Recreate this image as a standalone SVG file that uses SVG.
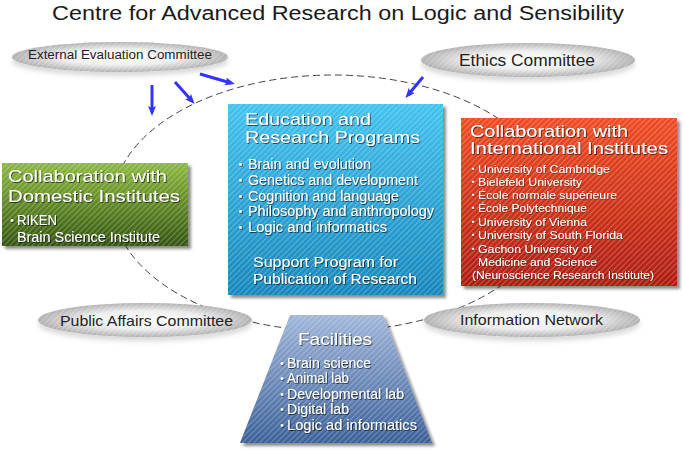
<svg xmlns="http://www.w3.org/2000/svg" width="684" height="451" viewBox="0 0 684 451">
<defs>
  <style>
    text { font-family: "Liberation Sans", "Noto Sans CJK JP", sans-serif; }
    .title { font-size: 20px; fill: #1a1a1a; }
    .cm { fill: #222; }
    .head { fill: #ffffff; font-size: 17px; filter: url(#ts); }
    .item { fill: #ffffff; font-size: 14px; filter: url(#ts); }
    .small { fill: #ffffff; font-size: 11.5px; filter: url(#ts2); }
    .ring { fill: none; stroke: #444; stroke-width: 1; stroke-dasharray: 7 4; }
    .arrow { fill: none; stroke: #3333ff; stroke-width: 3; marker-end: url(#ah); }
  </style>
  <pattern id="stripes" width="4" height="4" patternUnits="userSpaceOnUse" patternTransform="rotate(45)">
    <rect x="0" y="0" width="1.1" height="4" fill="#ffffff" fill-opacity="0.26"/>
  </pattern>
  <pattern id="gstripes" width="4" height="4" patternUnits="userSpaceOnUse" patternTransform="rotate(45)">
    <rect x="0" y="0" width="1.2" height="4" fill="#ffffff" fill-opacity="0.25"/>
  </pattern>
  <linearGradient id="gBlue" x1="0" y1="0" x2="0" y2="1">
    <stop offset="0" stop-color="#42c2f0"/>
    <stop offset="1" stop-color="#1786bb"/>
  </linearGradient>
  <linearGradient id="gGreen" x1="0" y1="0" x2="0" y2="1">
    <stop offset="0" stop-color="#8cba3c"/>
    <stop offset="1" stop-color="#335510"/>
  </linearGradient>
  <linearGradient id="gRed" x1="0" y1="0" x2="0" y2="1">
    <stop offset="0" stop-color="#f04c24"/>
    <stop offset="1" stop-color="#ae1c10"/>
  </linearGradient>
  <linearGradient id="gFac" x1="0" y1="0" x2="0" y2="1">
    <stop offset="0" stop-color="#a0b6da"/>
    <stop offset="1" stop-color="#3b6098"/>
  </linearGradient>
  <radialGradient id="gGray" cx="0.5" cy="0.5" r="0.5">
    <stop offset="0" stop-color="#ffffff"/>
    <stop offset="0.55" stop-color="#ededed"/>
    <stop offset="1" stop-color="#b0b0b0"/>
  </radialGradient>
  <filter id="sh" x="-10%" y="-10%" width="125%" height="125%">
    <feGaussianBlur in="SourceAlpha" stdDeviation="1.8"/>
    <feOffset dx="3" dy="3" result="b"/>
    <feFlood flood-color="#000" flood-opacity="0.45"/>
    <feComposite in2="b" operator="in" result="s"/>
    <feMerge><feMergeNode in="s"/><feMergeNode in="SourceGraphic"/></feMerge>
  </filter>
  <filter id="esh" x="-10%" y="-30%" width="120%" height="180%">
    <feGaussianBlur in="SourceAlpha" stdDeviation="2.5"/>
    <feOffset dx="0" dy="4" result="b"/>
    <feFlood flood-color="#000" flood-opacity="0.15"/>
    <feComposite in2="b" operator="in" result="s"/>
    <feMerge><feMergeNode in="s"/><feMergeNode in="SourceGraphic"/></feMerge>
  </filter>
  <filter id="ts" x="-5%" y="-20%" width="110%" height="150%">
    <feDropShadow dx="0.8" dy="0.8" stdDeviation="0.5" flood-color="#000" flood-opacity="0.75"/>
  </filter>
  <filter id="ts2" x="-5%" y="-20%" width="110%" height="150%">
    <feDropShadow dx="0.5" dy="0.5" stdDeviation="0.3" flood-color="#000" flood-opacity="0.6"/>
  </filter>
  <marker id="ah" viewBox="0 0 10 8" refX="6" refY="4" markerWidth="10" markerHeight="8" markerUnits="userSpaceOnUse" orient="auto">
    <path d="M0,0 L10,4 L0,8 L2,4 Z" fill="#3333ff"/>
  </marker>
</defs>

<rect x="0" y="0" width="684" height="451" fill="#ffffff"/>

<text class="title" x="52" y="20" textLength="572" lengthAdjust="spacingAndGlyphs">Centre for Advanced Research on Logic and Sensibility</text>

<g id="connectors">
  <ellipse class="ring" cx="333" cy="203" rx="220" ry="128"/>
  <line class="arrow" x1="152" y1="85" x2="152" y2="112"/>
  <line class="arrow" x1="175" y1="82" x2="192" y2="101"/>
  <line class="arrow" x1="200" y1="74" x2="231" y2="83"/>
  <line class="arrow" x1="423" y1="77" x2="408" y2="95"/>
</g>

<g id="external-evaluation">
  <ellipse cx="120" cy="57" rx="108" ry="15" fill="url(#gGray)" filter="url(#esh)"/>
  <ellipse cx="120" cy="57" rx="108" ry="15" fill="url(#gstripes)"/>
  <text class="cm" x="28" y="59" font-size="12" textLength="184" lengthAdjust="spacingAndGlyphs">External Evaluation Committee</text>
</g>

<g id="ethics">
  <ellipse cx="528" cy="60" rx="107" ry="17" fill="url(#gGray)" filter="url(#esh)"/>
  <ellipse cx="528" cy="60" rx="107" ry="17" fill="url(#gstripes)"/>
  <text class="cm" x="459" y="66" font-size="16" textLength="136" lengthAdjust="spacingAndGlyphs">Ethics Committee</text>
</g>

<g id="public-affairs">
  <ellipse cx="145" cy="320" rx="107" ry="17" fill="url(#gGray)" filter="url(#esh)"/>
  <ellipse cx="145" cy="320" rx="107" ry="17" fill="url(#gstripes)"/>
  <text class="cm" x="60" y="326" font-size="15" textLength="173" lengthAdjust="spacingAndGlyphs">Public Affairs Committee</text>
</g>

<g id="information-network">
  <ellipse cx="532" cy="320" rx="108" ry="17" fill="url(#gGray)" filter="url(#esh)"/>
  <ellipse cx="532" cy="320" rx="108" ry="17" fill="url(#gstripes)"/>
  <text class="cm" x="460" y="325" font-size="15" textLength="143" lengthAdjust="spacingAndGlyphs">Information Network</text>
</g>

<g id="education">
  <rect x="228" y="104" width="215" height="191" fill="url(#gBlue)" filter="url(#sh)"/>
  <rect x="228" y="104" width="215" height="191" fill="url(#stripes)"/>
  <text class="head" x="245" y="125" textLength="126" lengthAdjust="spacingAndGlyphs">Education and</text>
  <text class="head" x="245" y="143" textLength="175" lengthAdjust="spacingAndGlyphs">Research Programs</text>
  <text class="item" y="169"><tspan x="234" font-size="13">・</tspan><tspan x="248" textLength="123" lengthAdjust="spacingAndGlyphs">Brain and evolution</tspan></text>
  <text class="item" y="185"><tspan x="234" font-size="13">・</tspan><tspan x="248" textLength="170" lengthAdjust="spacingAndGlyphs">Genetics and development</tspan></text>
  <text class="item" y="201"><tspan x="234" font-size="13">・</tspan><tspan x="248" textLength="151" lengthAdjust="spacingAndGlyphs">Cognition and language</tspan></text>
  <text class="item" y="216"><tspan x="234" font-size="13">・</tspan><tspan x="248" textLength="186" lengthAdjust="spacingAndGlyphs">Philosophy and anthropology</tspan></text>
  <text class="item" y="232"><tspan x="234" font-size="13">・</tspan><tspan x="248" textLength="139" lengthAdjust="spacingAndGlyphs">Logic and informatics</tspan></text>
  <text class="item" x="253" y="267" textLength="145" lengthAdjust="spacingAndGlyphs">Support Program for</text>
  <text class="item" x="253" y="284" textLength="164" lengthAdjust="spacingAndGlyphs">Publication of Research</text>
</g>

<g id="domestic">
  <rect x="2" y="163" width="186" height="83" fill="url(#gGreen)" filter="url(#sh)"/>
  <rect x="2" y="163" width="186" height="83" fill="url(#stripes)"/>
  <text class="head" x="8" y="182" textLength="159" lengthAdjust="spacingAndGlyphs">Collaboration with</text>
  <text class="head" x="8" y="202" textLength="172" lengthAdjust="spacingAndGlyphs">Domestic Institutes</text>
  <text class="item" y="225"><tspan x="5.5" font-size="13">・</tspan><tspan x="17" textLength="40" lengthAdjust="spacingAndGlyphs">RIKEN</tspan></text>
  <text class="item" x="17" y="242" textLength="143" lengthAdjust="spacingAndGlyphs">Brain Science Institute</text>
</g>

<g id="international">
  <rect x="461" y="118" width="216" height="168" fill="url(#gRed)" filter="url(#sh)"/>
  <rect x="461" y="118" width="216" height="168" fill="url(#stripes)"/>
  <text class="head" x="470" y="137" font-size="15.5" textLength="158" lengthAdjust="spacingAndGlyphs">Collaboration with</text>
  <text class="head" x="470" y="154" font-size="15.5" textLength="198" lengthAdjust="spacingAndGlyphs">International Institutes</text>
  <text class="small" y="173"><tspan x="467.5" font-size="11">・</tspan><tspan x="478" textLength="132" lengthAdjust="spacingAndGlyphs">University of Cambridge</tspan></text>
  <text class="small" y="186"><tspan x="467.5" font-size="11">・</tspan><tspan x="478" textLength="104" lengthAdjust="spacingAndGlyphs">Bielefeld University</tspan></text>
  <text class="small" y="199"><tspan x="467.5" font-size="11">・</tspan><tspan x="478" textLength="139" lengthAdjust="spacingAndGlyphs">École normale supérieure</tspan></text>
  <text class="small" y="212"><tspan x="467.5" font-size="11">・</tspan><tspan x="478" textLength="109" lengthAdjust="spacingAndGlyphs">École Polytechnique</tspan></text>
  <text class="small" y="226"><tspan x="467.5" font-size="11">・</tspan><tspan x="478" textLength="109" lengthAdjust="spacingAndGlyphs">University of Vienna</tspan></text>
  <text class="small" y="239"><tspan x="467.5" font-size="11">・</tspan><tspan x="478" textLength="145" lengthAdjust="spacingAndGlyphs">University of South Florida</tspan></text>
  <text class="small" y="253"><tspan x="467.5" font-size="11">・</tspan><tspan x="478" textLength="114" lengthAdjust="spacingAndGlyphs">Gachon University of</tspan></text>
  <text class="small" x="478" y="266" textLength="119" lengthAdjust="spacingAndGlyphs">Medicine and Science</text>
  <text class="small" x="472" y="279" textLength="182" lengthAdjust="spacingAndGlyphs">(Neuroscience Research Institute)</text>
</g>

<g id="facilities">
  <polygon points="290,315 383,315 432,443 240,443" fill="url(#gFac)" filter="url(#sh)"/>
  <polygon points="290,315 383,315 432,443 240,443" fill="url(#stripes)"/>
  <text class="head" x="298" y="345" font-size="18" textLength="74" lengthAdjust="spacingAndGlyphs">Facilities</text>
  <text class="item" y="368"><tspan x="275.5" font-size="13">・</tspan><tspan x="287" textLength="84" lengthAdjust="spacingAndGlyphs">Brain science</tspan></text>
  <text class="item" y="383"><tspan x="275.5" font-size="13">・</tspan><tspan x="287" textLength="62" lengthAdjust="spacingAndGlyphs">Animal lab</tspan></text>
  <text class="item" y="399"><tspan x="275.5" font-size="13">・</tspan><tspan x="287" textLength="117" lengthAdjust="spacingAndGlyphs">Developmental lab</tspan></text>
  <text class="item" y="414"><tspan x="275.5" font-size="13">・</tspan><tspan x="287" textLength="62" lengthAdjust="spacingAndGlyphs">Digital lab</tspan></text>
  <text class="item" y="430"><tspan x="275.5" font-size="13">・</tspan><tspan x="287" textLength="130" lengthAdjust="spacingAndGlyphs">Logic ad informatics</tspan></text>
</g>
</svg>
